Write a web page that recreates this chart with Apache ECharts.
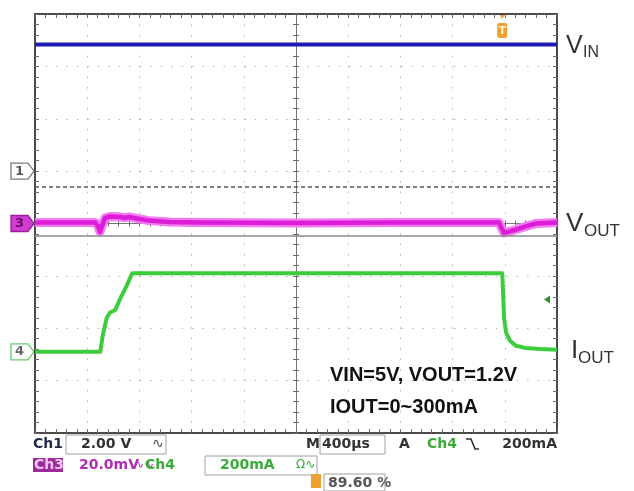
<!DOCTYPE html>
<html>
<head>
<meta charset="utf-8">
<script src="https://cdn.jsdelivr.net/npm/echarts/dist/echarts.min.js"></script>
<style>
html,body{margin:0;padding:0;background:#fff;}
#chart{width:634px;height:491px;}
</style>
</head>
<body>
<div id="chart"></div>
<script>
// ---------------- data (read from the scope capture) ----------------
// time base: 400 us / division, 10 divisions, time measured from the left edge of the screen
const timeTicksUs = [0, 400, 800, 1200, 1600, 2000, 2400, 2800, 3200, 3600, 4000];

// Ch1 : VIN (2.00 V/div)
const vinTimeUs = [0, 4000];
const vinVolts  = [4.84, 4.84];

// Ch3 : VOUT, AC coupled (20.0 mV/div)
const voutTimeUs = [0, 460, 483, 498, 513, 536, 574, 636, 689, 720, 782, 874, 1027, 1257, 2023, 2789, 3555, 3570, 3594, 3632, 3686, 3762, 3839, 4000];
const voutMv     = [0.4, 0.4, -1.0, -3.2, -1.0, 2.1, 2.7, 2.6, 2.2, 2.5, 1.9, 1.1, 0.6, 0.4, 0.2, 0.4, 0.4, 0.2, -3.6, -3.1, -2.3, -1.1, 0.0, 0.4];

// Ch4 : IOUT (200 mA/div)
const ioutTimeUs = [0, 500, 520, 550, 575, 615, 650, 700, 745, 3580, 3586, 3594, 3610, 3640, 3685, 3755, 3870, 4000];
const ioutMa     = [0, 0, 65, 130, 150, 160, 200, 250, 300, 300, 237, 130, 73, 42, 23, 15, 11, 8];

// scope settings
const ch1VoltsPerDiv = 2, ch1OffsetDiv = 1;       // ground marker 1 div above centre
const ch3MvPerDiv = 20,   ch3OffsetDiv = 0;
const ch4MaPerDiv = 200,  ch4OffsetDiv = -2.45;
const triggerTimeUs = 3580;
const triggerLevelMa = 200;
const refLinesDiv = [0.70, -0.24];   // dashed cursor line, grey reference line

// ---------------- chart ----------------
const chart = echarts.init(document.getElementById('chart'), null, {renderer: 'canvas'});

const pairs = (xs, ys) => xs.map((x, i) => [x, ys[i]]);
const FRAME = '#4a4a4a', TICK = '#6a6a6a', DOT = '#b4b4b4';

function xFrame(extra) {
  return Object.assign({
    type: 'value', min: timeTicksUs[0], max: timeTicksUs[timeTicksUs.length - 1], interval: 400,
    axisLabel: {show: false},
    axisLine: {show: true, onZero: false, lineStyle: {color: FRAME, width: 2}},
    axisTick: {show: true, inside: true, length: 4, lineStyle: {color: TICK}},
    minorTick: {show: true, splitNumber: 5, length: 4, lineStyle: {color: TICK}},
    splitLine: {show: false}
  }, extra);
}
function yFrame(extra) {
  return Object.assign({
    type: 'value', min: -4, max: 4, interval: 1,
    axisLabel: {show: false},
    axisLine: {show: true, onZero: false, lineStyle: {color: FRAME, width: 2}},
    axisTick: {show: true, inside: true, length: 4, lineStyle: {color: TICK}},
    minorTick: {show: true, splitNumber: 5, length: 4, lineStyle: {color: TICK}},
    splitLine: {show: false}
  }, extra);
}
const centreLine = {show: true, onZero: false, lineStyle: {color: '#777', width: 1}};
function chAxis(perDiv, offDiv) {
  return {type: 'value', show: false, min: (-4 - offDiv) * perDiv, max: (4 - offDiv) * perDiv,
          splitLine: {show: false}};
}

const option = {
  animation: false,
  backgroundColor: '#ffffff',
  grid: {left: 35, top: 14, width: 522, height: 419, containLabel: false},
  xAxis: [
    xFrame({position: 'bottom', splitLine: {show: true, lineStyle: {color: DOT, width: 1, type: [1.5, 8.94]}}}),
    xFrame({position: 'top'}),
    xFrame({position: 'bottom', offset: -209.5, axisLine: centreLine, axisTick: {show: true, inside: true, length: 3, lineStyle: {color: TICK}}, minorTick: {show: true, splitNumber: 5, length: 3, lineStyle: {color: TICK}}}),
    xFrame({position: 'bottom', offset: -209.5, axisLine: centreLine, axisTick: {show: true, inside: false, length: 3, lineStyle: {color: TICK}}, minorTick: {show: true, splitNumber: 5, length: 3, lineStyle: {color: TICK}}})
  ],
  yAxis: [
    yFrame({position: 'left', splitLine: {show: true, lineStyle: {color: DOT, width: 1, type: [1.5, 8.97]}}}),
    yFrame({position: 'right'}),
    yFrame({position: 'left', offset: -261, axisLine: centreLine, axisTick: {show: true, inside: true, length: 3, lineStyle: {color: TICK}}, minorTick: {show: true, splitNumber: 5, length: 3, lineStyle: {color: TICK}}}),
    yFrame({position: 'left', offset: -261, axisLine: centreLine, axisTick: {show: true, inside: false, length: 3, lineStyle: {color: TICK}}, minorTick: {show: true, splitNumber: 5, length: 3, lineStyle: {color: TICK}}}),
    chAxis(ch1VoltsPerDiv, ch1OffsetDiv),
    chAxis(ch3MvPerDiv, ch3OffsetDiv),
    chAxis(ch4MaPerDiv, ch4OffsetDiv)
  ],
  series: [
    {
      name: 'ref', type: 'line', xAxisIndex: 0, yAxisIndex: 0, data: [], silent: true,
      markLine: {
        symbol: 'none', silent: true, label: {show: false},
        data: [
          {yAxis: refLinesDiv[0], lineStyle: {color: '#555', width: 1.5, type: [4, 3]}},
          {yAxis: refLinesDiv[1], lineStyle: {color: '#8a8a8a', width: 1.5, type: 'solid'}}
        ]
      }
    },
    {
      name: 'VIN', type: 'line', xAxisIndex: 0, yAxisIndex: 4, showSymbol: false, symbol: 'none',
      data: pairs(vinTimeUs, vinVolts), lineStyle: {color: '#1c1cb4', width: 4}
    },
    {
      name: 'VOUT halo', type: 'line', xAxisIndex: 0, yAxisIndex: 5, showSymbol: false, symbol: 'none',
      data: pairs(voutTimeUs, voutMv), lineStyle: {color: '#f27cf0', width: 9, join: 'round'}
    },
    {
      name: 'VOUT', type: 'line', xAxisIndex: 0, yAxisIndex: 5, showSymbol: false, symbol: 'none',
      data: pairs(voutTimeUs, voutMv), lineStyle: {color: '#dc1ed8', width: 4.5, join: 'round'}
    },
    {
      name: 'IOUT', type: 'line', xAxisIndex: 0, yAxisIndex: 6, showSymbol: false, symbol: 'none',
      data: pairs(ioutTimeUs, ioutMa), lineStyle: {color: '#3ccc3c', width: 4, join: 'round'}
    }
  ]
};
chart.setOption(option);

// ---------------- annotations ----------------
const y1 = chart.convertToPixel({yAxisIndex: 4}, 0);
const y3 = chart.convertToPixel({yAxisIndex: 5}, 0);
const y4 = chart.convertToPixel({yAxisIndex: 6}, 0);
const yTrig = chart.convertToPixel({yAxisIndex: 6}, triggerLevelMa);
const xTrig = chart.convertToPixel({xAxisIndex: 0}, triggerTimeUs);

function chMarker(y, label, fill, stroke, txt) {
  return {
    type: 'group', children: [
      {type: 'polygon', shape: {points: [[11, y - 8], [28, y - 8], [34, y], [28, y + 8], [11, y + 8]]},
       style: {fill: fill, stroke: stroke, lineWidth: 1.3}},
      {type: 'text', x: 19.5, y: y, style: {text: label, fill: txt, font: 'bold 13px "DejaVu Sans"', align: 'center', verticalAlign: 'middle'}}
    ]
  };
}
function txt(x, y, s, color, font, align) {
  return {type: 'text', x: x, y: y, style: {text: s, fill: color, font: font, align: align || 'left', verticalAlign: 'middle'}};
}
function box(x, y, w, h, color) {
  return {type: 'rect', shape: {x: x, y: y, width: w, height: h}, style: {fill: 'none', stroke: color || '#a0a0a0', lineWidth: 1}};
}
const SF = 'bold 14px "DejaVu Sans"';
const LBL = '"Liberation Sans", Arial, sans-serif';

chart.setOption({
  graphic: [
    chMarker(y1, '1', '#ffffff', '#7a7a7a', '#555'),
    chMarker(y3, '3', '#d23cd0', '#a01a9e', '#6a106a'),
    chMarker(y4, '4', '#ffffff', '#66cc66', '#666'),
    // trigger position marker
    {type: 'polygon', shape: {points: [[xTrig - 4, 13], [xTrig + 4, 13], [xTrig, 19]]}, style: {fill: '#f0a030'}},
    {type: 'rect', shape: {x: xTrig - 5, y: 23, width: 10, height: 15, r: 2}, style: {fill: '#f0a030'}},
    txt(xTrig, 31, 'T', '#fff3d8', 'bold 11px "DejaVu Sans"', 'center'),
    // trigger level
    {type: 'polygon', shape: {points: [[544, yTrig], [550, yTrig - 4], [550, yTrig + 4]]}, style: {fill: '#2f8f2f'}},
    // trace labels
    txt(566, 46, 'V', '#333', '25px ' + LBL),
    txt(583, 53, 'IN', '#333', '16px ' + LBL),
    txt(566, 224, 'V', '#333', '26px ' + LBL),
    txt(584, 231, 'OUT', '#333', '17px ' + LBL),
    txt(571, 351, 'I', '#333', '26px ' + LBL),
    txt(578, 358, 'OUT', '#333', '17px ' + LBL),
    // condition text
    txt(330, 375.5, 'VIN=5V, VOUT=1.2V', '#111', 'bold 20px ' + LBL),
    txt(330, 407.5, 'IOUT=0~300mA', '#111', 'bold 20px ' + LBL),
    // status line 1
    txt(33, 444, 'Ch1', '#1f2a48', SF),
    box(66, 435, 100, 19),
    txt(81, 444, '2.00 V', '#333', SF),
    txt(152, 444, '\u223F', '#555', '14px "DejaVu Sans"'),
    txt(306, 444, 'M', '#333', SF),
    box(320, 435, 65, 19),
    txt(322, 444, '400\u03BCs', '#333', SF),
    txt(399, 444, 'A', '#333', SF),
    txt(427, 444, 'Ch4', '#3aaa3a', SF),
    {type: 'polyline', shape: {points: [[466, 439], [471, 439], [475, 449], [479, 449]]}, style: {stroke: '#333', lineWidth: 1.6, fill: 'none'}},
    txt(557, 444, '200mA', '#333', SF, 'right'),
    // status line 2
    {type: 'rect', shape: {x: 33, y: 458, width: 30, height: 14}, style: {fill: '#9c2c9c'}},
    txt(34, 465, 'Ch3', '#f2c8f2', SF),
    txt(79, 465, '20.0mV', '#b02cb0', SF),
    txt(134, 465, '\u223F\u223F', '#b02cb0', '12px "DejaVu Sans"'),
    txt(145, 465, 'Ch4', '#3aaa3a', SF),
    box(205, 456, 112, 19),
    txt(220, 465, '200mA', '#3aaa3a', SF),
    txt(296, 465, '\u03A9\u223F', '#3aaa3a', '12px "DejaVu Sans"'),
    // status line 3
    {type: 'rect', shape: {x: 311, y: 474, width: 10, height: 14}, style: {fill: '#f0a030'}},
    box(324, 474, 61, 17),
    txt(328, 483, '89.60 %', '#555', SF)
  ]
});
</script>
</body>
</html>
